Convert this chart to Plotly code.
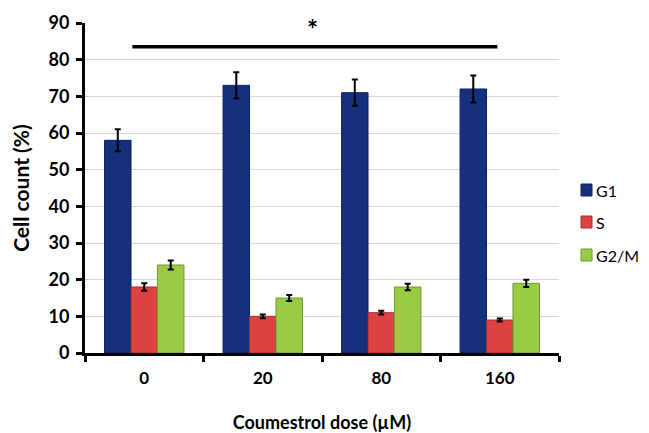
import plotly.graph_objects as go

categories = ["0", "20", "80", "160"]
g1 = [58, 73, 71, 72]
g1_err = [3, 3.6, 3.6, 3.7]
s = [18, 10, 11, 9]
s_err = [1.0, 0.5, 0.5, 0.4]
g2m = [24, 15, 18, 19]
g2m_err = [1.2, 0.8, 0.9, 1.0]
y_ticks = [0, 10, 20, 30, 40, 50, 60, 70, 80, 90]
legend_names = ["G1", "S", "G2/M"]

font = "Lato"
W, H = 641, 425
L, R, T, B = 77, 90, 15, 80
pw, ph = W - L - R, H - T - B

fig = go.Figure()
colors = ["#15307c", "#db4343", "#9acb45"]
edges = ["#0d2160", "#a82d2d", "#6f9a2c"]
for name, vals, err, col, edge in zip(legend_names, [g1, s, g2m], [g1_err, s_err, g2m_err], colors, edges):
    fig.add_trace(go.Bar(
        name=name, x=categories, y=vals, showlegend=False,
        marker=dict(color=col, line=dict(color=edge, width=1)),
        error_y=dict(type="data", array=err, color="black", thickness=2, width=3),
    ))

# significance bar and star
fig.add_shape(type="line", xref="x", yref="y", x0=-0.1, x1=2.98, y0=83.5, y1=83.5,
              line=dict(color="black", width=3.5))
fig.add_annotation(x=1.42, y=88.5, xref="x", yref="y", text="<b>*</b>", showarrow=False,
                   font=dict(family=font, size=26, color="black"))

# manual legend (pixel positions converted to paper coords)
def px(fx):
    return (fx - L) / pw

def py(fy):
    return (T + ph - fy) / ph

legend_y = [182, 214, 247]
for name, col, edge, fy in zip(legend_names, colors, edges, legend_y):
    fig.add_shape(type="rect", xref="paper", yref="paper",
                  x0=px(573), x1=px(584), y0=py(fy + 6), y1=py(fy - 6),
                  fillcolor=col, line=dict(color=edge, width=1))
    fig.add_annotation(x=px(586), y=py(fy), xref="paper", yref="paper", text=name,
                       showarrow=False, xanchor="left", yanchor="middle",
                       font=dict(family=font, size=16, color="black"))

fig.update_layout(
    width=W, height=H,
    margin=dict(l=L, r=R, t=T, b=B),
    paper_bgcolor="white", plot_bgcolor="white",
    barmode="group", bargap=0.33, bargroupgap=0,
    font=dict(family=font, color="black"),
    showlegend=False,
    xaxis=dict(
        type="category", tickson="boundaries", ticks="outside", ticklen=6, tickwidth=3,
        tickcolor="black", showline=True, linecolor="black", linewidth=3, automargin=False,
        ticklabelstandoff=8,
        tickfont=dict(family=font, size=17, color="black", weight="bold"),
        title=dict(text="<b>Coumestrol dose (µM)</b>", font=dict(family=font, size=18), standoff=30),
        showgrid=False,
    ),
    yaxis=dict(
        range=[0, 90], tickvals=y_ticks, ticks="outside", ticklen=6, tickwidth=3,
        tickcolor="black", showline=True, linecolor="black", linewidth=3, automargin=False,
        ticklabelstandoff=3,
        gridcolor="#d9d9d9", gridwidth=1,
        tickfont=dict(family=font, size=18, color="black", weight="bold"),
        title=dict(text="<b>Cell count (%)</b>", font=dict(family=font, size=21), standoff=16),
        zeroline=False,
    ),
)
fig.write_html("out.html")
